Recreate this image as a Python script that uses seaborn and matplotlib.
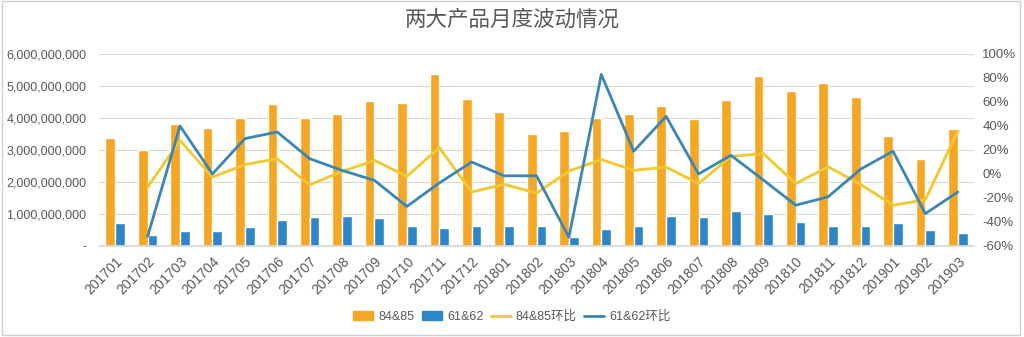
import numpy as np
import pandas as pd
import matplotlib
matplotlib.use("Agg")
import matplotlib.pyplot as plt
from matplotlib.ticker import FuncFormatter
from matplotlib.patches import Patch, Rectangle
from matplotlib.lines import Line2D
import seaborn as sns

# Monthly categories
months = ["201701", "201702", "201703", "201704", "201705", "201706", "201707",
          "201708", "201709", "201710", "201711", "201712", "201801", "201802",
          "201803", "201804", "201805", "201806", "201807", "201808", "201809",
          "201810", "201811", "201812", "201901", "201902", "201903"]

# Monthly totals (in units)
sales_8485 = [3.37e9, 3.00e9, 3.80e9, 3.70e9, 3.99e9, 4.44e9, 4.01e9, 4.13e9,
              4.54e9, 4.47e9, 5.39e9, 4.59e9, 4.18e9, 3.49e9, 3.59e9, 4.00e9,
              4.12e9, 4.36e9, 3.98e9, 4.56e9, 5.31e9, 4.83e9, 5.10e9, 4.66e9,
              3.44e9, 2.71e9, 3.67e9]
sales_6162 = [0.71e9, 0.35e9, 0.46e9, 0.46e9, 0.60e9, 0.82e9, 0.92e9, 0.94e9,
              0.88e9, 0.64e9, 0.57e9, 0.64e9, 0.64e9, 0.61e9, 0.27e9, 0.52e9,
              0.64e9, 0.93e9, 0.92e9, 1.08e9, 1.00e9, 0.76e9, 0.62e9, 0.62e9,
              0.73e9, 0.49e9, 0.41e9]

# Month-over-month change (%), first month has no prior value
mom_8485 = [np.nan, -11, 28, -2.6, 7.8, 12.8, -9, 2, 11.4, -2, 22, -15, -8.6,
            -16, 2.5, 12, 3, 5.8, -8, 14.7, 17, -8, 6, -8.6, -26, -21.5, 36]
mom_6162 = [np.nan, -52, 40, 0, 29.5, 35, 12.8, 3, -5.3, -27, -7.5, 10, -1.5,
            -1.5, -52.7, 83, 19, 48, 0, 15.6, -5, -26, -19, 4, 19, -33, -15]

bar_names = ["84&85", "61&62"]
line_names = ["84&85环比", "61&62环比"]
title = "两大产品月度波动情况"

c_orange = "#F5A623"
c_blue_bar = "#2E86C8"
c_yellow = "#F2C82E"
c_blue_line = "#3A86B8"
txt = "#595959"

sns.set_theme(style="white")
plt.rcParams["font.family"] = ["Liberation Sans", "Noto Sans CJK SC", "DejaVu Sans"]

bars = pd.DataFrame({
    "month": months * 2,
    "value": sales_8485 + sales_6162,
    "series": [bar_names[0]] * len(months) + [bar_names[1]] * len(months),
})
lines = pd.DataFrame({
    "pos": list(range(len(months))) * 2,
    "value": mom_8485 + mom_6162,
    "series": [line_names[0]] * len(months) + [line_names[1]] * len(months),
}).dropna()

fig = plt.figure(figsize=(10.24, 3.37), dpi=100)
ax = fig.add_axes([99 / 1024, 1 - 246 / 337, 875 / 1024, 192 / 337])

sns.barplot(data=bars, x="month", y="value", hue="series", order=months,
            hue_order=bar_names, palette=[c_orange, c_blue_bar], width=0.6,
            saturation=1, gap=0, ax=ax, legend=False)
ax.set_ylim(0, 6e9)
ax.set_xlim(-0.5, len(months) - 0.5)
ax.set_yticks(np.arange(0, 6.01e9, 1e9))
ax.yaxis.set_major_formatter(FuncFormatter(lambda v, p: "-" if v == 0 else f"{v:,.0f}"))
ax.grid(axis="y", color="#D9D9D9", linewidth=0.8)
ax.set_axisbelow(True)
for s in ["top", "right", "left"]:
    ax.spines[s].set_visible(False)
ax.spines["bottom"].set_color("#D9D9D9")
ax.set_xlabel("")
ax.set_ylabel("")
ax.tick_params(axis="y", labelsize=9, labelcolor=txt, length=0, pad=9)
ax.tick_params(axis="x", labelsize=10, labelcolor=txt, length=0, pad=6)
plt.setp(ax.get_xticklabels(), rotation=45, ha="right", rotation_mode="anchor")

ax2 = ax.twinx()
sns.lineplot(data=lines, x="pos", y="value", hue="series", hue_order=line_names,
             palette=[c_yellow, c_blue_line], linewidth=2, ax=ax2, legend=False)
ax2.set_ylim(-60, 100)
ax2.set_yticks(np.arange(-60, 101, 20))
ax2.yaxis.set_major_formatter(FuncFormatter(lambda v, p: f"{v:.0f}%"))
ax2.set_ylabel("")
ax2.set_xlabel("")
for s in ["top", "right", "left", "bottom"]:
    ax2.spines[s].set_visible(False)
ax2.tick_params(axis="y", labelsize=9.5, labelcolor=txt, length=0, pad=6)
ax.set_xlim(-0.5, len(months) - 0.5)

fig.text(0.5, 1 - 20 / 337, title, ha="center", va="center", fontsize=15.5,
         color=txt, family=["Noto Sans CJK SC", "DejaVu Sans"])

handles = [Patch(color=c_orange), Patch(color=c_blue_bar),
           Line2D([], [], color=c_yellow, lw=2), Line2D([], [], color=c_blue_line, lw=2)]
fig.legend(handles, bar_names + line_names, loc="center", bbox_to_anchor=(0.5, 1 - 317 / 337),
           ncol=4, frameon=False, labelcolor=txt, handlelength=1.6,
           handleheight=0.7, handletextpad=0.4, columnspacing=0.6,
           prop={"family": ["Liberation Sans", "Noto Sans CJK SC"], "size": 9})

# thin frame around the figure
fig.patches.append(Rectangle((0.002, 0.006), 0.994, 0.99, transform=fig.transFigure,
                             fill=False, edgecolor="#D0D0D0", linewidth=1))

fig.savefig("out.png", dpi=100, facecolor="white")
